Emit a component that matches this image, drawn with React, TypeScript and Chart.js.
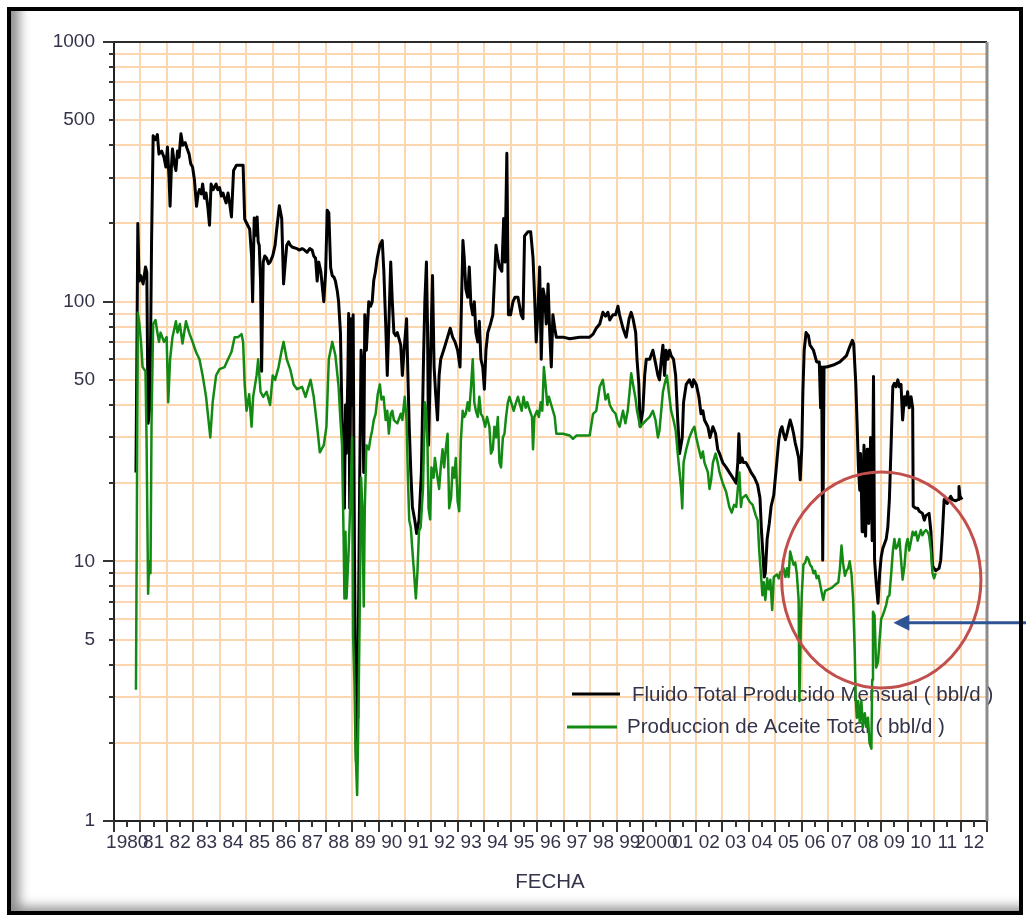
import React, { useEffect, useRef } from 'react';
import { Chart, registerables } from 'chart.js';

Chart.register(...registerables);

// ---------------- DATA ----------------
const fluidYears = [
  1980.83, 1980.86, 1980.90, 1980.95, 1981.01, 1981.10, 1981.19, 1981.24, 1981.29, 1981.36,
  1981.42, 1981.48, 1981.57, 1981.64, 1981.70, 1981.80, 1981.89, 1981.96, 1982.02, 1982.08,
  1982.12, 1982.17, 1982.21, 1982.28, 1982.34, 1982.40, 1982.46, 1982.53, 1982.60, 1982.69,
  1982.76, 1982.84, 1982.90, 1982.97, 1983.04, 1983.12, 1983.18, 1983.23, 1983.30, 1983.35,
  1983.42, 1983.48, 1983.55, 1983.61, 1983.67, 1983.75, 1983.86, 1983.92, 1983.99, 1984.06,
  1984.12, 1984.18, 1984.24, 1984.31, 1984.37, 1984.44, 1984.52, 1984.63, 1984.75, 1984.88,
  1984.94, 1985.02, 1985.13, 1985.20, 1985.24, 1985.30, 1985.36, 1985.41, 1985.45, 1985.49,
  1985.54, 1985.58, 1985.64, 1985.70, 1985.77, 1985.84, 1985.90, 1986.00, 1986.09, 1986.15,
  1986.25, 1986.30, 1986.34, 1986.38, 1986.41, 1986.47, 1986.53, 1986.60, 1986.66, 1986.75,
  1986.92, 1987.00, 1987.11, 1987.20, 1987.30, 1987.40, 1987.49, 1987.55, 1987.62, 1987.68,
  1987.74, 1987.82, 1987.93, 1988.00, 1988.06, 1988.12, 1988.19, 1988.25, 1988.32, 1988.37,
  1988.44, 1988.49, 1988.56, 1988.62, 1988.68, 1988.71, 1988.75, 1988.78, 1988.84, 1988.87,
  1988.91, 1988.96, 1989.00, 1989.04, 1989.09, 1989.13, 1989.16, 1989.20, 1989.22, 1989.29,
  1989.34, 1989.39, 1989.44, 1989.48, 1989.54, 1989.63, 1989.70, 1989.76, 1989.82, 1989.88,
  1989.95, 1990.05, 1990.14, 1990.20, 1990.27, 1990.33, 1990.39, 1990.46, 1990.52, 1990.58,
  1990.65, 1990.71, 1990.84, 1990.90, 1990.96, 1991.06, 1991.11, 1991.16, 1991.22, 1991.28,
  1991.37, 1991.44, 1991.53, 1991.62, 1991.70, 1991.75, 1991.81, 1991.85, 1991.89, 1991.95,
  1992.04, 1992.10, 1992.16, 1992.23, 1992.29, 1992.35, 1992.48, 1992.61, 1992.71, 1992.80,
  1992.89, 1992.99, 1993.08, 1993.14, 1993.19, 1993.24, 1993.30, 1993.37, 1993.43, 1993.49,
  1993.56, 1993.62, 1993.68, 1993.75, 1993.81, 1993.87, 1993.94, 1994.00, 1994.06, 1994.13,
  1994.23, 1994.32, 1994.38, 1994.44, 1994.51, 1994.57, 1994.66, 1994.73, 1994.78, 1994.85,
  1994.91, 1994.99, 1995.08, 1995.16, 1995.27, 1995.39, 1995.46, 1995.52, 1995.65, 1995.75,
  1995.84, 1995.90, 1995.96, 1996.03, 1996.09, 1996.15, 1996.22, 1996.28, 1996.34, 1996.41,
  1996.47, 1996.53, 1996.59, 1996.66, 1996.72, 1996.97, 1997.23, 1997.60, 1997.98, 1998.11,
  1998.23, 1998.36, 1998.48, 1998.58, 1998.67, 1998.74, 1998.86, 1998.96, 1999.05, 1999.11,
  1999.24, 1999.36, 1999.47, 1999.55, 1999.62, 1999.72, 1999.77, 1999.84, 1999.89, 1999.99,
  2000.06, 2000.12, 2000.25, 2000.37, 2000.47, 2000.56, 2000.62, 2000.69, 2000.75, 2000.81,
  2000.87, 2000.94, 2001.00, 2001.06, 2001.15, 2001.23, 2001.31, 2001.38, 2001.48, 2001.53,
  2001.63, 2001.75, 2001.86, 2001.91, 2002.01, 2002.11, 2002.19, 2002.26, 2002.32, 2002.45,
  2002.53, 2002.64, 2002.74, 2002.82, 2002.89, 2003.01, 2003.14, 2003.26, 2003.39, 2003.52,
  2003.58, 2003.62, 2003.67, 2003.74, 2003.79, 2003.89, 2003.99, 2004.08, 2004.21, 2004.33,
  2004.42, 2004.47, 2004.53, 2004.58, 2004.62, 2004.69, 2004.77, 2004.84, 2004.94, 2005.00,
  2005.06, 2005.13, 2005.19, 2005.25, 2005.31, 2005.38, 2005.44, 2005.50, 2005.56, 2005.63,
  2005.69, 2005.75, 2005.81, 2005.88, 2005.94, 2006.00, 2006.04, 2006.09, 2006.16, 2006.25,
  2006.31, 2006.44, 2006.56, 2006.66, 2006.71, 2006.75, 2006.79, 2006.84, 2006.94, 2007.19,
  2007.44, 2007.69, 2007.81, 2007.91, 2007.96, 2008.04, 2008.09, 2008.14, 2008.19, 2008.22,
  2008.25, 2008.28, 2008.31, 2008.35, 2008.38, 2008.41, 2008.44, 2008.47, 2008.50, 2008.53,
  2008.56, 2008.60, 2008.63, 2008.66, 2008.71, 2008.75, 2008.81, 2008.88, 2008.94, 2009.00,
  2009.06, 2009.19, 2009.25, 2009.31, 2009.38, 2009.44, 2009.50, 2009.56, 2009.63, 2009.69,
  2009.75, 2009.81, 2009.88, 2009.94, 2010.00, 2010.06, 2010.13, 2010.19, 2010.21, 2010.31,
  2010.38, 2010.44, 2010.56, 2010.63, 2010.69, 2010.81, 2010.88, 2010.94, 2011.06, 2011.19,
  2011.25, 2011.31, 2011.38, 2011.44, 2011.50, 2011.56, 2011.63, 2011.69, 2011.81, 2011.91,
  2011.94, 2011.98, 2012.06,
];
const fluidValues = [
  22, 54, 200, 120, 126, 117, 136, 130, 34, 40,
  170, 435, 420, 440, 370, 380, 360, 330, 394, 300,
  233, 330, 387, 340, 320, 380, 360, 443, 400, 410,
  390, 370, 340, 330, 295, 233, 260, 270, 260, 284,
  250, 262, 230, 197, 284, 270, 284, 270, 275, 255,
  262, 250, 240, 262, 240, 212, 320, 335, 335, 335,
  208, 200, 190, 150, 100, 210, 180, 212, 170, 165,
  120, 54, 142, 150, 147, 140, 142, 150, 165, 190,
  234, 220, 209, 150, 117, 140, 165, 170, 165, 162,
  160, 158, 160, 158, 155, 160, 158, 150, 147, 120,
  142, 130, 100, 130, 225, 220, 135, 126, 124, 120,
  110, 100, 76, 35, 26, 16, 40, 26, 52, 90,
  16, 86, 40, 89, 11, 3.5, 1.7, 2.5, 3.4, 22,
  65, 55, 22, 89, 65, 100, 96, 100, 121, 130,
  147, 165, 172, 131, 82, 52, 82, 142, 100, 76,
  74, 76, 68, 52, 64, 86, 52, 33, 22, 16.2,
  14.4, 12.8, 14.4, 22, 60, 100, 142, 82, 28, 52,
  126, 56, 44, 35, 52, 60, 66, 73, 79, 73,
  70, 65, 56, 104, 172, 147, 112, 104, 136, 98,
  89, 100, 76, 70, 84, 60, 56, 46, 65, 76,
  82, 89, 121, 165, 147, 136, 131, 209, 142, 373,
  89, 89, 100, 104, 104, 89, 86, 179, 186, 186,
  147, 104, 70, 94, 136, 60, 112, 104, 82, 117,
  76, 56, 89, 79, 73, 73, 72, 73, 73, 75,
  79, 82, 91, 88, 91, 85, 89, 89, 96, 89,
  79, 73, 86, 91, 86, 76, 60, 48, 33, 38,
  52, 60, 60, 65, 58, 52, 50, 60, 68, 52,
  65, 60, 65, 62, 60, 52, 35, 26, 30, 41,
  48, 50, 47, 50, 48, 43, 37, 38, 35, 33,
  30, 33, 31, 27, 26, 24, 23, 22, 21, 20,
  24, 31, 24, 25, 24, 24, 23, 22, 21, 19.7,
  17.5, 13.4, 10.6, 8.7, 9, 12.2, 14, 16.3, 18, 21,
  24.5, 29.4, 32, 33, 31, 29.4, 31, 33, 35, 33,
  31, 28.6, 27, 25, 20.6, 27.6, 45, 65, 76, 74,
  68, 65, 58.6, 58.6, 39, 56, 10.1, 56, 56, 57,
  58.6, 62, 67, 71, 69, 48.5, 34, 23, 18.8, 26,
  19.4, 13, 17.8, 28, 20.6, 12.5, 17, 27, 24, 14,
  18, 30, 21, 12, 51.5, 10.1, 8.3, 6.9, 8.9, 10.4,
  11.2, 12.2, 13.5, 17.3, 29, 47.2, 48.5, 47, 50, 47,
  48, 35, 43, 40, 45, 39, 43, 39, 16.3, 16,
  16, 15.6, 15.3, 14.4, 15, 15.3, 13, 9.6, 9.2, 9.4,
  10.1, 12.6, 17.3, 17, 16.7, 17.3, 17.8, 17.3, 17.1, 17.3,
  19.4, 17.8, 17.3,
];

const oilYears = [
  1980.83, 1980.86, 1980.90, 1980.96, 1981.02, 1981.08, 1981.19, 1981.23, 1981.29, 1981.33,
  1981.38, 1981.42, 1981.48, 1981.57, 1981.64, 1981.70, 1981.76, 1981.89, 1981.99, 1982.05,
  1982.12, 1982.21, 1982.34, 1982.40, 1982.49, 1982.59, 1982.72, 1982.84, 1982.97, 1983.10,
  1983.23, 1983.35, 1983.48, 1983.64, 1983.73, 1983.86, 1983.99, 1984.18, 1984.31, 1984.44,
  1984.56, 1984.69, 1984.82, 1984.88, 1984.94, 1985.01, 1985.11, 1985.20, 1985.26, 1985.39,
  1985.45, 1985.54, 1985.64, 1985.77, 1985.90, 1986.00, 1986.09, 1986.22, 1986.34, 1986.41,
  1986.53, 1986.66, 1986.79, 1986.92, 1987.11, 1987.24, 1987.43, 1987.55, 1987.68, 1987.78,
  1987.93, 1988.03, 1988.12, 1988.25, 1988.37, 1988.49, 1988.56, 1988.62, 1988.68, 1988.71,
  1988.75, 1988.79, 1988.87, 1988.94, 1989.00, 1989.04, 1989.09, 1989.13, 1989.19, 1989.23,
  1989.29, 1989.34, 1989.39, 1989.44, 1989.48, 1989.54, 1989.63, 1989.70, 1989.76, 1989.82,
  1989.89, 1989.97, 1990.05, 1990.11, 1990.19, 1990.27, 1990.33, 1990.39, 1990.46, 1990.52,
  1990.58, 1990.71, 1990.84, 1990.90, 1990.99, 1991.06, 1991.11, 1991.16, 1991.22, 1991.28,
  1991.34, 1991.41, 1991.47, 1991.53, 1991.59, 1991.68, 1991.75, 1991.80, 1991.85, 1991.89,
  1991.95, 1992.00, 1992.08, 1992.13, 1992.20, 1992.29, 1992.35, 1992.42, 1992.48, 1992.54,
  1992.61, 1992.67, 1992.74, 1992.80, 1992.86, 1992.92, 1992.99, 1993.05, 1993.11, 1993.18,
  1993.24, 1993.30, 1993.37, 1993.43, 1993.49, 1993.56, 1993.62, 1993.68, 1993.75, 1993.81,
  1993.87, 1993.94, 1994.03, 1994.10, 1994.19, 1994.25, 1994.32, 1994.38, 1994.44, 1994.51,
  1994.57, 1994.63, 1994.70, 1994.76, 1994.82, 1994.89, 1994.95, 1995.01, 1995.11, 1995.20,
  1995.27, 1995.32, 1995.41, 1995.48, 1995.56, 1995.62, 1995.72, 1995.80, 1995.84, 1995.89,
  1995.99, 1996.06, 1996.13, 1996.19, 1996.25, 1996.32, 1996.38, 1996.44, 1996.53, 1996.66,
  1996.72, 1996.97, 1997.23, 1997.35, 1997.48, 1997.98, 1998.11, 1998.23, 1998.36, 1998.48,
  1998.58, 1998.67, 1998.74, 1998.86, 1998.96, 1999.05, 1999.11, 1999.24, 1999.33, 1999.42,
  1999.49, 1999.55, 1999.62, 1999.72, 1999.77, 1999.84, 1999.89, 2000.12, 2000.25, 2000.37,
  2000.47, 2000.56, 2000.62, 2000.75, 2000.81, 2000.90, 2000.97, 2001.06, 2001.15, 2001.23,
  2001.31, 2001.38, 2001.44, 2001.48, 2001.53, 2001.63, 2001.75, 2001.86, 2001.94, 2002.01,
  2002.11, 2002.19, 2002.26, 2002.32, 2002.45, 2002.51, 2002.57, 2002.64, 2002.74, 2002.82,
  2002.89, 2003.01, 2003.14, 2003.26, 2003.35, 2003.44, 2003.52, 2003.58, 2003.64, 2003.70,
  2003.74, 2003.89, 2004.02, 2004.14, 2004.26, 2004.33, 2004.39, 2004.45, 2004.51, 2004.56,
  2004.62, 2004.69, 2004.75, 2004.81, 2004.88, 2004.94, 2005.06, 2005.13, 2005.19, 2005.25,
  2005.31, 2005.38, 2005.44, 2005.50, 2005.56, 2005.63, 2005.69, 2005.75, 2005.81, 2005.88,
  2005.91, 2005.96, 2006.00, 2006.06, 2006.13, 2006.19, 2006.25, 2006.31, 2006.38, 2006.44,
  2006.50, 2006.56, 2006.63, 2006.75, 2006.81, 2006.88, 2007.00, 2007.13, 2007.25, 2007.38,
  2007.44, 2007.50, 2007.56, 2007.63, 2007.69, 2007.75, 2007.81, 2007.88, 2007.94, 2008.00,
  2008.04, 2008.08, 2008.13, 2008.19, 2008.25, 2008.31, 2008.38, 2008.44, 2008.50, 2008.56,
  2008.63, 2008.66, 2008.69, 2008.75, 2008.81, 2008.88, 2008.94, 2009.00, 2009.06, 2009.13,
  2009.19, 2009.25, 2009.31, 2009.38, 2009.44, 2009.50, 2009.56, 2009.63, 2009.69, 2009.75,
  2009.81, 2009.88, 2009.94, 2010.00, 2010.06, 2010.13, 2010.19, 2010.25, 2010.31, 2010.38,
  2010.44, 2010.50, 2010.56, 2010.63, 2010.69, 2010.75, 2010.81, 2010.88, 2010.94, 2011.00,
  2011.06,
];
const oilValues = [
  3.2, 12.3, 90.8, 82, 70, 56, 54, 30, 7.5, 10,
  9, 35, 82, 85, 76, 70, 76, 70, 73, 41,
  60, 73, 84, 76, 82, 69, 84, 76, 70, 64,
  60, 52, 43, 30, 41, 52, 55, 56, 60, 64,
  73, 73, 75, 70, 48, 38, 44, 33, 43, 52,
  60, 45, 43, 45, 40, 52, 50, 56, 65, 70,
  60, 55, 48, 46, 47, 43, 50, 43, 33, 26.3,
  28, 33, 60, 70, 62, 47, 35, 28, 12.3, 7.2,
  13, 7.2, 11, 17.5, 30, 5.1, 3.4, 1.9, 1.26, 2.2,
  6.7, 21, 16, 6.7, 16, 28, 27, 30, 32, 35,
  37, 44, 48, 42, 43, 35, 38, 31, 37, 38,
  35, 34, 37, 35, 43, 35, 21, 14.4, 13.5, 11,
  9.1, 7.2, 9.1, 13.1, 13.5, 19, 41, 38, 28, 16,
  14.5, 23, 21, 25, 22, 19, 23, 27, 23, 27,
  31, 16, 17.5, 23, 21, 25, 17, 15.6, 29, 38,
  36, 37, 41, 38, 46, 60, 41, 38, 36, 43,
  37, 36, 33, 36, 33, 26, 27, 33, 30, 36,
  24, 23, 30, 31, 36, 41, 43, 41, 38, 41,
  43, 41, 38, 43, 39, 41, 38, 36, 27, 36,
  38, 36, 41, 38, 56, 47, 40, 43, 40, 36,
  31, 31, 30.5, 29.6, 30.5, 30.5, 37, 38, 47, 50,
  42, 44, 40, 38, 37, 34, 33, 38, 34, 38,
  45, 53, 48, 42, 38, 35, 33, 35, 36, 38,
  35, 30, 32, 45, 48, 52, 45, 38, 35, 32,
  26, 22, 19, 16, 24, 27, 30, 32, 33, 30,
  27, 25, 26.5, 24, 22, 19, 20.5, 24, 26, 24,
  22, 20, 18.5, 16.2, 15.4, 16.5, 16.2, 19, 22, 16.2,
  17.5, 18, 17, 16.5, 15, 14.4, 11, 9.1, 7.4, 8.3,
  7.1, 8.6, 7.8, 8.5, 6.5, 8.7, 8.9, 8.6, 9.1, 9,
  9.4, 8.7, 9.4, 8.7, 10.9, 10.2, 9.7, 9.9, 9, 7.1,
  2.9, 5.5, 7.5, 9.7, 9.9, 10.4, 10.2, 9.7, 9.5, 9,
  9.2, 8.6, 8.8, 7.6, 7.1, 7.7, 7.8, 7.9, 8.1, 8.3,
  9.4, 11.5, 9.8, 8.8, 9.2, 9.4, 10, 8.9, 7.1, 4.5,
  2.9, 2.5, 2.9, 2.4, 2.9, 2.3, 2.6, 2.3, 2.5, 2,
  1.9, 3.5, 6.4, 6.2, 3.9, 4.1, 5, 6, 6.2, 6.5,
  6.8, 7.3, 7.4, 9, 10.9, 12.2, 11.2, 11.5, 12.2, 10.2,
  8.5, 9.6, 11.5, 12.2, 11, 12, 13, 12.6, 13, 12,
  12.6, 13.2, 12.6, 13, 13.2, 13, 12.6, 11, 9, 8.6,
  9,
];

const seriesNames = [
  'Fluido Total Producido Mensual ( bbl/d )',
  'Produccion de Aceite Total ( bbl/d )',
];
const xTitle = 'FECHA';
const xTickLabels = [
  '1980', '81', '82', '83', '84', '85', '86', '87', '88', '89',
  '90', '91', '92', '93', '94', '95', '96', '97', '98', '99',
  '2000', '01', '02', '03', '04', '05', '06', '07', '08', '09',
  '10', '11', '12',
];
const xFirstYear = 1980;
const xLastYear = 2013;
const yTickValues = [1, 5, 10, 50, 100, 500, 1000];
const yTickLabels = ['1', '5', '10', '50', '100', '500', '1000'];
const yGridValues = [
  1, 2, 3, 4, 5, 6, 7, 8, 9,
  10, 20, 30, 40, 50, 60, 70, 80, 90,
  100, 200, 300, 400, 500, 600, 700, 800, 900,
  1000,
];
// annotation (red ellipse + arrow), in data units
const circleYears = [2005.24, 2012.77];
const circleValues = [22.1, 3.25];
const arrowTip = { year: 2009.46, value: 5.8 };

// ---------------- STYLE ----------------
const FONT = '"Liberation Sans", Arial, "DejaVu Sans", sans-serif';
const TEXT = '#33334a';
const GRID = '#fbd6ae';
const GREEN = '#138a13';

const decorPlugin = {
  id: 'decor',
  beforeDatasetsDraw(chart: any) {
    const ctx = chart.ctx as CanvasRenderingContext2D;
    ctx.save();
    // legend (drawn under the data lines)
    ctx.lineWidth = 3;
    ctx.strokeStyle = '#000';
    ctx.beginPath();
    ctx.moveTo(572, 694);
    ctx.lineTo(620, 694);
    ctx.stroke();
    ctx.strokeStyle = GREEN;
    ctx.beginPath();
    ctx.moveTo(567, 727);
    ctx.lineTo(617, 727);
    ctx.stroke();
    ctx.fillStyle = TEXT;
    ctx.font = `20.5px ${FONT}`;
    ctx.textBaseline = 'middle';
    ctx.textAlign = 'left';
    ctx.fillText(seriesNames[0], 632, 695);
    ctx.fillText(seriesNames[1], 627, 727);
    ctx.restore();
  },
  afterDraw(chart: any) {
    const ctx = chart.ctx as CanvasRenderingContext2D;
    const xs = chart.scales.x;
    const ys = chart.scales.y;
    const a = chart.chartArea;
    ctx.save();
    // top and right frame
    ctx.strokeStyle = '#2a2a2a';
    ctx.lineWidth = 2;
    ctx.beginPath();
    ctx.moveTo(a.left - 1, a.top);
    ctx.lineTo(a.right, a.top);
    ctx.stroke();
    ctx.strokeStyle = '#8c8c8c';
    ctx.lineWidth = 3;
    ctx.beginPath();
    ctx.moveTo(a.right, a.top);
    ctx.lineTo(a.right, a.bottom);
    ctx.stroke();
    // tick marks
    ctx.strokeStyle = '#333';
    ctx.lineWidth = 2;
    yGridValues.forEach((v) => {
      const y = Math.round(ys.getPixelForValue(v));
      const decade = Math.abs(Math.log10(v) - Math.round(Math.log10(v))) < 1e-9;
      const len = decade ? 11 : 5;
      ctx.beginPath();
      ctx.moveTo(a.left - len, y);
      ctx.lineTo(a.left, y);
      ctx.stroke();
    });
    for (let v = xFirstYear; v <= xLastYear; v += 0.5) {
      const x = Math.round(xs.getPixelForValue(v));
      const len = Number.isInteger(v) ? 11 : 6;
      ctx.beginPath();
      ctx.moveTo(x, a.bottom);
      ctx.lineTo(x, a.bottom + len);
      ctx.stroke();
    }
    // axis title
    ctx.fillStyle = TEXT;
    ctx.font = `20.5px ${FONT}`;
    ctx.textAlign = 'center';
    ctx.textBaseline = 'middle';
    ctx.fillText(xTitle, 550, 882);
    // red ellipse
    const x0 = xs.getPixelForValue(circleYears[0]);
    const x1 = xs.getPixelForValue(circleYears[1]);
    const y0 = ys.getPixelForValue(circleValues[0]);
    const y1 = ys.getPixelForValue(circleValues[1]);
    ctx.strokeStyle = '#c0504d';
    ctx.lineWidth = 3;
    ctx.beginPath();
    ctx.ellipse((x0 + x1) / 2, (y0 + y1) / 2, (x1 - x0) / 2, (y1 - y0) / 2, 0, 0, Math.PI * 2);
    ctx.stroke();
    // blue arrow
    const tx = xs.getPixelForValue(arrowTip.year);
    const ty = ys.getPixelForValue(arrowTip.value);
    ctx.strokeStyle = '#2f5493';
    ctx.fillStyle = '#2f5493';
    ctx.lineWidth = 3;
    ctx.beginPath();
    ctx.moveTo(tx + 12, ty);
    ctx.lineTo(chart.width + 5, ty);
    ctx.stroke();
    ctx.beginPath();
    ctx.moveTo(tx, ty);
    ctx.lineTo(tx + 16, ty - 8);
    ctx.lineTo(tx + 16, ty + 8);
    ctx.closePath();
    ctx.fill();
    ctx.restore();
  },
};

export default function App() {
  const canvasRef = useRef<HTMLCanvasElement | null>(null);

  useEffect(() => {
    const canvas = canvasRef.current;
    if (!canvas) return;
    const fluidPts = fluidYears.map((x, i) => ({ x, y: fluidValues[i] }));
    const oilPts = oilYears.map((x, i) => ({ x, y: oilValues[i] }));
    const halfYears: number[] = [];
    for (let v = xFirstYear; v <= xLastYear; v += 0.5) halfYears.push(v);

    const chart = new Chart(canvas, {
      type: 'line',
      data: {
        datasets: [
          {
            label: seriesNames[1],
            data: oilPts,
            borderColor: GREEN,
            borderWidth: 2.5,
            pointRadius: 0,
            tension: 0,
            fill: false,
            borderJoinStyle: 'round',
            order: 0,
          },
          {
            label: seriesNames[0],
            data: fluidPts,
            borderColor: '#000000',
            borderWidth: 3,
            pointRadius: 0,
            tension: 0,
            fill: false,
            borderJoinStyle: 'round',
            order: 1,
          },
        ],
      },
      options: {
        responsive: false,
        animation: false,
        events: [],
        layout: { padding: { left: 0, top: 42, right: 39, bottom: 0 } },
        plugins: { legend: { display: false }, tooltip: { enabled: false } },
        scales: {
          x: {
            type: 'linear',
            min: xFirstYear,
            max: xLastYear,
            afterBuildTicks: (s: any) => {
              s.ticks = halfYears.map((v) => ({ value: v }));
            },
            afterFit: (s: any) => {
              s.height = 94;
            },
            ticks: {
              autoSkip: false,
              maxRotation: 0,
              minRotation: 0,
              padding: 10,
              color: TEXT,
              font: { family: FONT, size: 19 },
              callback: (v: any) => {
                const n = Number(v);
                if (Math.abs(n - Math.floor(n) - 0.5) < 1e-6) {
                  return xTickLabels[Math.floor(n) - xFirstYear] ?? '';
                }
                return '';
              },
            },
            grid: {
              drawTicks: false,
              lineWidth: 2,
              color: (c: any) => {
                const v = c.tick ? c.tick.value : 0;
                return Number.isInteger(v) && v > xFirstYear && v < xLastYear ? GRID : 'rgba(0,0,0,0)';
              },
            },
            border: { display: true, color: '#222', width: 2 },
          },
          y: {
            type: 'logarithmic',
            min: 1,
            max: 1000,
            afterBuildTicks: (s: any) => {
              s.ticks = yGridValues.map((v) => ({ value: v }));
            },
            afterFit: (s: any) => {
              s.width = 114;
            },
            ticks: {
              autoSkip: false,
              padding: 19,
              color: TEXT,
              font: { family: FONT, size: 19 },
              callback: (v: any) => {
                const i = yTickValues.indexOf(Number(v));
                return i >= 0 ? yTickLabels[i] : '';
              },
            },
            grid: {
              drawTicks: false,
              lineWidth: 2,
              color: (c: any) => {
                const v = c.tick ? c.tick.value : 0;
                return v > 1 && v < 1000 ? GRID : 'rgba(0,0,0,0)';
              },
            },
            border: { display: true, color: '#222', width: 2 },
          },
        },
      },
      plugins: [decorPlugin],
    } as any);

    return () => {
      chart.destroy();
    };
  }, []);

  return (
    <div
      style={{
        position: 'fixed',
        left: 0,
        top: 0,
        width: 1026,
        height: 915,
        background: '#ffffff',
        overflow: 'hidden',
      }}
    >
      <canvas
        ref={canvasRef}
        width={1026}
        height={915}
        style={{ position: 'absolute', left: 0, top: 0, width: 1026, height: 915 }}
      />
      <div
        style={{
          position: 'absolute',
          left: 7,
          top: 7,
          width: 1016,
          height: 908,
          boxSizing: 'border-box',
          border: '4px solid #000',
          boxShadow: 'inset 16px -12px 12px -8px rgba(0,0,0,0.45)',
          pointerEvents: 'none',
        }}
      />
    </div>
  );
}
